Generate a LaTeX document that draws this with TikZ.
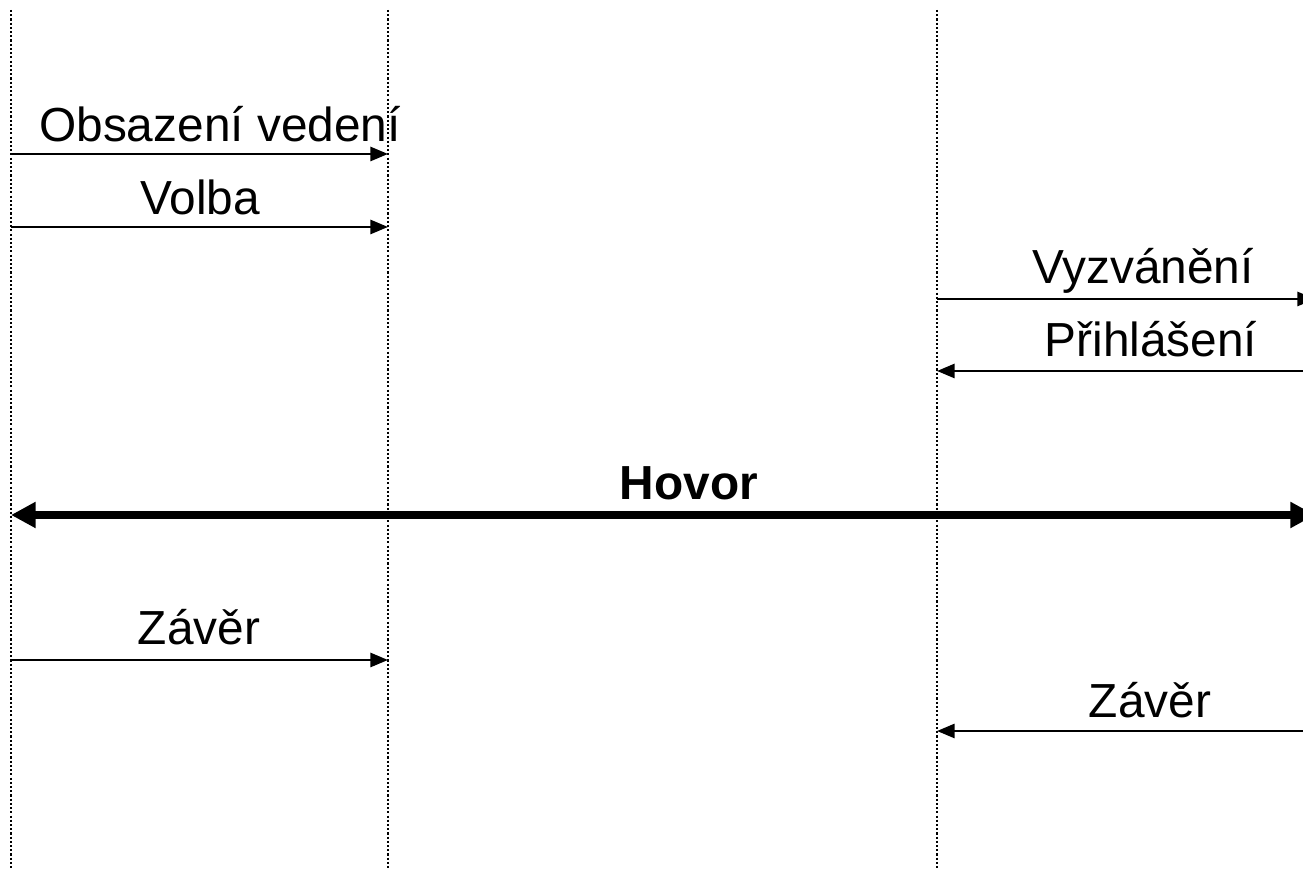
\documentclass[tikz,border=0pt]{standalone}
\usepackage{fontspec}
\setmainfont{Liberation Sans}
\usetikzlibrary{arrows.meta,positioning}
\tikzset{>={Triangle[length=5pt,width=4pt]}}
\tikzset{lifeline/.style={line width=0.8pt, dash pattern=on 0.6pt off 0.6pt}}
\tikzset{msg/.style={line width=0.7pt,->}}
\tikzset{call/.style={line width=2pt,{Triangle[length=7pt,width=7pt]}-{Triangle[length=7pt,width=7pt]}}}
\tikzset{lbl/.style={anchor=base, inner sep=0pt, font=\fontsize{13.6pt}{16pt}\selectfont}}

\begin{document}
\begin{tikzpicture}
      \useasboundingbox (0,0) rectangle (13.03,8.70);
      \clip (0,0) rectangle (13.03,8.70);
      % lifelines
      \coordinate (t1) at (0.11,8.60);
      \coordinate (b1) at (0.11,0.02);
      \coordinate (t2) at (3.88,8.60);
      \coordinate (b2) at (3.88,0.02);
      \coordinate (t3) at (9.37,8.60);
      \coordinate (b3) at (9.37,0.02);
      \draw[lifeline] (t1) -- (b1);
      \draw[lifeline] (t2) -- (b2);
      \draw[lifeline] (t3) -- (b3);
      % message ends
      \coordinate (s1) at (0.11,7.16);
      \coordinate (e1) at (3.88,7.16);
      \coordinate (s2) at (0.11,6.43);
      \coordinate (e2) at (3.88,6.43);
      \coordinate (s3) at (9.37,5.71);
      \coordinate (e3) at (13.15,5.71);
      \coordinate (s4) at (13.15,4.99);
      \coordinate (e4) at (9.37,4.99);
      \coordinate (h1) at (0.11,3.55);
      \coordinate (h2) at (13.15,3.55);
      \coordinate (s5) at (0.11,2.10);
      \coordinate (e5) at (3.88,2.10);
      \coordinate (s6) at (13.15,1.39);
      \coordinate (e6) at (9.37,1.39);
      \draw[msg] (s1) -- (e1);
      \draw[msg] (s2) -- (e2);
      \draw[msg] (s3) -- (e3);
      \draw[msg] (s4) -- (e4);
      \draw[call] (h1) -- (h2);
      \draw[msg] (s5) -- (e5);
      \draw[msg] (s6) -- (e6);
      % labels
      \node[lbl] (obsazeni) at (2.20,7.28) {Obsazení vedení};
      \node[lbl] (volba) at (2.00,6.55) {Volba};
      \node[lbl] (vyzvaneni) at (11.43,5.86) {Vyzvánění};
      \node[lbl] (prihlaseni) at (11.51,5.13) {Přihlášení};
      \node[lbl,font=\fontsize{13.6pt}{16pt}\selectfont\bfseries] (hovor) at (6.89,3.70) {Hovor};
      \node[lbl] (zaver1) at (1.99,2.25) {Závěr};
      \node[lbl] (zaver2) at (11.50,1.52) {Závěr};
    \end{tikzpicture}
\end{document}
